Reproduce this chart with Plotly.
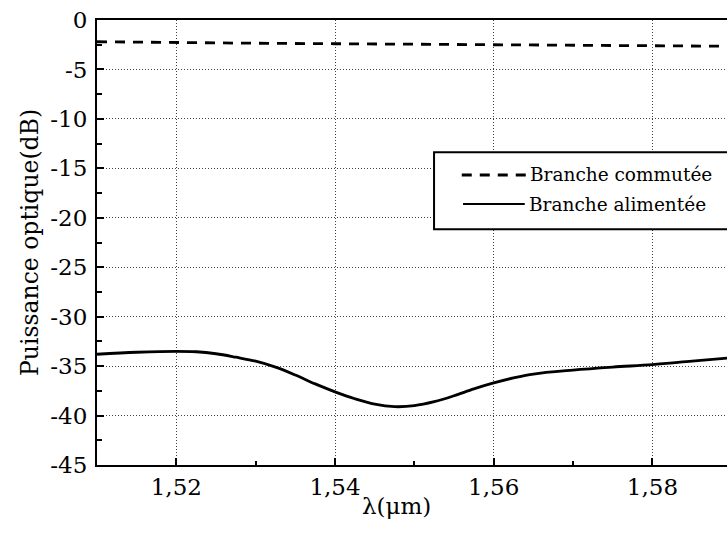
import plotly.graph_objects as go

# Wavelength sweep (µm) and measured optical power (dB) for both output branches
wl_commutee = [1.510, 1.520, 1.530, 1.540, 1.550, 1.560, 1.570, 1.580, 1.5894]
p_commutee = [-2.2, -2.3, -2.35, -2.4, -2.45, -2.5, -2.5, -2.6, -2.65]

wl_alimentee = [1.510, 1.515, 1.520, 1.5225, 1.525, 1.5275, 1.530, 1.5325, 1.535,
                1.5375, 1.540, 1.5425, 1.545, 1.5475, 1.550, 1.5525, 1.555, 1.5575,
                1.560, 1.5625, 1.565, 1.570, 1.575, 1.580, 1.585, 1.5894]
p_alimentee = [-33.8, -33.6, -33.5, -33.55, -33.75, -34.1, -34.5, -35.1, -35.9,
               -36.8, -37.6, -38.3, -38.85, -39.1, -39.0, -38.6, -38.0, -37.3,
               -36.7, -36.2, -35.8, -35.4, -35.1, -34.85, -34.5, -34.2]

x_ticks = [1.52, 1.54, 1.56, 1.58]
x_ticktext = ["1,52", "1,54", "1,56", "1,58"]
y_ticks = [0, -5, -10, -15, -20, -25, -30, -35, -40, -45]
y_ticktext = ["0", "-5", "-10", "-15", "-20", "-25", "-30", "-35", "-40", "-45"]

series_names = ["Branche commutée", "Branche alimentée"]

FONT = "DejaVu Serif"

fig = go.Figure()
fig.add_trace(go.Scatter(x=wl_commutee, y=p_commutee, mode="lines", name=series_names[0],
                         line=dict(color="black", width=2.8, dash="10px,8px"),
                         showlegend=False))
fig.add_trace(go.Scatter(x=wl_alimentee, y=p_alimentee, mode="lines", name=series_names[1],
                         line=dict(color="black", width=2.8, shape="spline"),
                         showlegend=False))

# Boxed legend drawn at the right-hand side of the plot
fig.add_shape(type="rect", xref="paper", yref="paper", x0=0.535, x1=1.05, y0=0.530, y1=0.703,
              line=dict(color="black", width=2), fillcolor="white", layer="above")
fig.add_shape(type="line", xref="paper", yref="paper", x0=0.579, x1=0.684, y0=0.6517, y1=0.6517,
              line=dict(color="black", width=2.8, dash="10px,8px"), layer="above")
fig.add_shape(type="line", xref="paper", yref="paper", x0=0.581, x1=0.679, y0=0.5865, y1=0.5865,
              line=dict(color="black", width=2), layer="above")
fig.add_annotation(xref="paper", yref="paper", x=0.684, y=0.6517, text=series_names[0],
                   showarrow=False, xanchor="left", yanchor="middle",
                   font=dict(family=FONT, size=18.5, color="black"))
fig.add_annotation(xref="paper", yref="paper", x=0.682, y=0.5865, text=series_names[1],
                   showarrow=False, xanchor="left", yanchor="middle",
                   font=dict(family=FONT, size=18.5, color="black"))

# Axis title under the wavelength ticks
fig.add_annotation(xref="paper", yref="paper", x=0.476, y=-0.092, text="λ(μm)",
                   showarrow=False, xanchor="center", yanchor="middle",
                   font=dict(family=FONT, size=23, color="black"))

fig.update_layout(
    width=727, height=534,
    margin=dict(l=97, r=0, t=20, b=69),
    paper_bgcolor="white", plot_bgcolor="white",
    font=dict(family=FONT, size=23, color="black"),
    showlegend=False,
    xaxis=dict(
        range=[1.51, 1.5894],
        tickvals=x_ticks, ticktext=x_ticktext,
        ticks="inside", ticklen=7, tickwidth=1.5, tickcolor="black",
        minor=dict(tickvals=[1.51, 1.53, 1.55, 1.57], ticks="inside", ticklen=4,
                   tickcolor="black", showgrid=False),
        showline=True, linecolor="black", linewidth=2, mirror=True,
        showgrid=True, gridcolor="#444", gridwidth=1, griddash="1px,2px",
        zeroline=False,
        tickfont=dict(family=FONT, size=23),
        ticklabelstandoff=0,
    ),
    yaxis=dict(
        range=[-45, 0],
        tickvals=y_ticks, ticktext=y_ticktext,
        ticks="inside", ticklen=7, tickwidth=1.5, tickcolor="black",
        minor=dict(tickvals=[-2.5, -7.5, -12.5, -17.5, -22.5, -27.5, -32.5, -37.5, -42.5],
                   ticks="inside", ticklen=5, tickcolor="black", showgrid=False),
        showline=True, linecolor="black", linewidth=2,
        showgrid=True, gridcolor="#444", gridwidth=1, griddash="1px,2px",
        zeroline=False,
        tickfont=dict(family=FONT, size=23),
        ticklabelstandoff=3,
        title=dict(text="Puissance optique(dB)", font=dict(family=FONT, size=23.5), standoff=5),
    ),
)

fig.write_html("out.html")
